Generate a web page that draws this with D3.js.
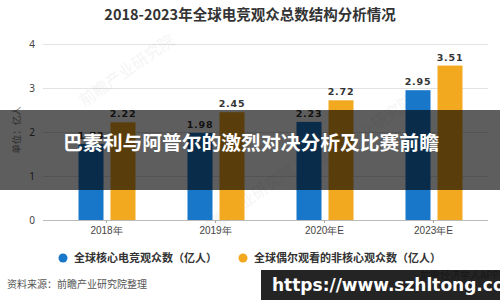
<!DOCTYPE html>
<html>
<head>
<meta charset="utf-8">
<script src="https://cdn.jsdelivr.net/npm/d3@7"></script>
<style>
  body { margin: 0; background: #fff; }
  svg { display: block; font-family: "Noto Sans CJK SC", "Noto Sans", sans-serif; }
</style>
</head>
<body>
<div id="chart"></div>
<script>
// chart data
var years = ["2018年", "2019年", "2020年E", "2023年E"];
var coreViewers = [1.73, 1.98, 2.23, 2.95];
var casualViewers = [2.22, 2.45, 2.72, 3.51];
var seriesNames = ["全球核心电竞观众数（亿人）", "全球偶尔观看的非核心观众数（亿人）"];
var yTicks = [0, 1, 2, 3, 4];

var width = 500,
    height = 300,
    colors = ["#1877c9", "#f2a91f"];

var svg = d3.select("#chart").append("svg")
    .attr("width", width)
    .attr("height", height);

// scales
var x = d3.scaleBand().domain(years).range([52, 488]);
var y = d3.scaleLinear().domain([0, 4]).range([220, 44]);

// title
svg.append("text")
    .attr("x", 250).attr("y", 20)
    .attr("text-anchor", "middle")
    .attr("font-size", 14.5)
    .attr("font-weight", "bold")
    .attr("fill", "#333")
    .text("2018-2023年全球电竞观众总数结构分析情况");

// gridlines + y labels
var yAxis = svg.append("g").attr("transform", "translate(43,0)")
    .call(d3.axisLeft(y).tickValues(yTicks).tickSize(-445).tickPadding(8).tickFormat(d3.format("d")));
yAxis.select(".domain").remove();
yAxis.selectAll(".tick line").attr("stroke", (d) => d === 0 ? "#bbb" : "#e2e2e2");
yAxis.selectAll(".tick text").attr("font-size", 10).attr("fill", "#444")
    .attr("font-family", "Noto Sans, sans-serif");

// x axis
var xAxis = svg.append("g").attr("transform", "translate(0,220)")
    .call(d3.axisBottom(x).tickSize(3).tickPadding(4));
xAxis.select(".domain").remove();
xAxis.selectAll(".tick line").attr("stroke", "#aaa");
xAxis.selectAll(".tick text").attr("font-size", 10).attr("fill", "#444");

// y axis unit
svg.append("text")
    .attr("transform", "translate(20,130) rotate(-90)")
    .attr("text-anchor", "middle")
    .attr("font-size", 9.5)
    .attr("fill", "#777")
    .text("单位：亿人");

// faint watermarks
var marks = [[130, 75], [250, 205], [370, 135]];
svg.selectAll(".wm").data(marks).enter().append("text")
    .attr("class", "wm")
    .attr("transform", (d) => "translate(" + d[0] + "," + d[1] + ") rotate(-35)")
    .attr("text-anchor", "middle")
    .attr("font-size", 16)
    .attr("fill", "#000")
    .attr("opacity", 0.04)
    .text("前瞻产业研究院");

// bars
var series = [coreViewers, casualViewers];
var barW = 25, offsets = [-28, 4];
series.forEach(function(vals, s) {
    var g = svg.append("g");
    g.selectAll("rect").data(vals).enter().append("rect")
        .attr("x", (d, i) => x(years[i]) + x.bandwidth() / 2 + offsets[s])
        .attr("y", (d) => y(d))
        .attr("width", barW)
        .attr("height", (d) => y(0) - y(d))
        .attr("fill", colors[s]);
    g.selectAll("text").data(vals).enter().append("text")
        .attr("x", (d, i) => x(years[i]) + x.bandwidth() / 2 + offsets[s] + barW / 2)
        .attr("y", (d) => y(d) - 5)
        .attr("text-anchor", "middle")
        .attr("font-size", 9.5)
        .attr("font-weight", "bold")
        .attr("letter-spacing", 0.8)
        .attr("fill", "#333")
        .attr("font-family", "DejaVu Sans, sans-serif")
        .text((d) => d.toFixed(2));
});

// legend
var legendX = [63, 243];
seriesNames.forEach(function(name, s) {
    svg.append("circle")
        .attr("cx", legendX[s]).attr("cy", 258).attr("r", 4.5)
        .attr("fill", colors[s]);
    svg.append("text")
        .attr("x", legendX[s] + 11).attr("y", 262)
        .attr("font-size", 11)
        .attr("font-weight", "bold")
        .attr("fill", "#333")
        .text(name);
});

// source
svg.append("text")
    .attr("x", 7).attr("y", 288)
    .attr("font-size", 10)
    .attr("fill", "#555")
    .text("资料来源：前瞻产业研究院整理");

svg.append("text")
    .attr("x", 499).attr("y", 279)
    .attr("text-anchor", "end")
    .attr("font-size", 10)
    .attr("fill", "#666")
    .text("前瞻经济学人APP");

// dark overlay banner
svg.append("rect")
    .attr("x", 0).attr("y", 110).attr("width", width).attr("height", 80)
    .attr("fill", "#000").attr("opacity", 0.63);
svg.append("text")
    .attr("x", 251).attr("y", 150)
    .attr("text-anchor", "middle")
    .attr("font-size", 19.8)
    .attr("font-weight", "bold")
    .attr("fill", "#fff")
    .text("巴素利与阿普尔的激烈对决分析及比赛前瞻");

// url box
svg.append("rect")
    .attr("x", 261).attr("y", 270).attr("width", 239).attr("height", 30)
    .attr("fill", "#111").attr("opacity", 0.92);
svg.append("text")
    .attr("x", 272).attr("y", 291)
    .attr("font-size", 17)
    .attr("font-weight", "bold")
    .attr("fill", "#fff")
    .attr("font-family", "DejaVu Sans, sans-serif")
    .text("https://www.szhltong.com");
</script>
</body>
</html>
